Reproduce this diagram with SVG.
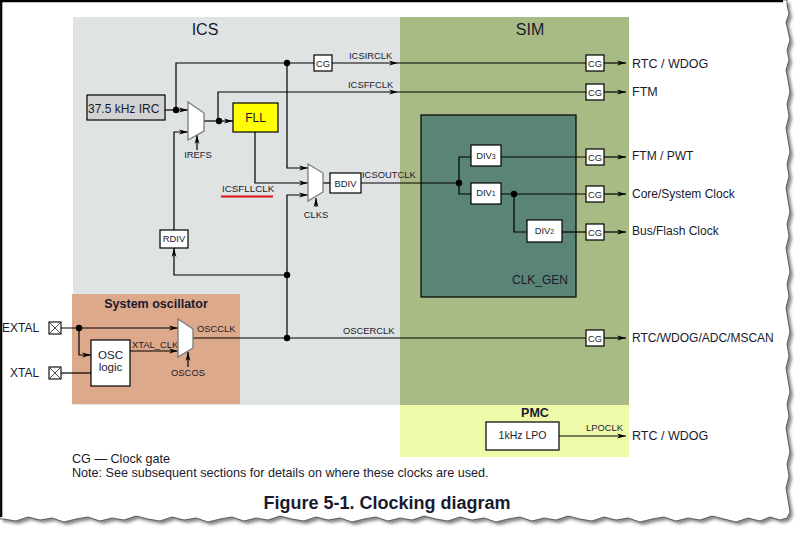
<svg xmlns="http://www.w3.org/2000/svg" width="796" height="534" viewBox="0 0 796 534">
<defs>
<style>
.ln{stroke:#000;stroke-width:1.2;fill:none}
.box{fill:#fff;stroke:#000;stroke-width:1.2}
.mux{fill:#fff;stroke:#7a7a7a;stroke-width:1.3}
.t{font-family:"Liberation Sans",Arial,Helvetica,sans-serif;fill:#1a1a2e}
.s9{font-size:9.4px}
.s12{font-size:12px}
.b{font-weight:bold}
.m{text-anchor:middle}
.dot{fill:#000}
</style>
<marker id="ah" markerWidth="9" markerHeight="6" refX="9" refY="3" orient="auto" markerUnits="userSpaceOnUse">
<path d="M0,0.6 L9,3 L0,5.4 L2.5,3 z" fill="#000"/>
</marker>
<filter id="blur" x="-5%" y="-5%" width="110%" height="110%"><feGaussianBlur stdDeviation="1.6"/></filter>
<filter id="blur2" x="-10%" y="-200%" width="120%" height="500%"><feGaussianBlur stdDeviation="1.2"/></filter>
</defs>

<g id="paper">
<path transform="translate(3,3)" filter="url(#blur)" fill="#8a8a8a" d="M0,0 L787,0 L787,5 789,14 786,22 788,31 790,40 787,50 789,60 786,70 788,80 790,92 787,104 789,116 786,128 788,140 790,152 787,164 789,176 786,188 788,200 790,212 787,224 789,236 786,248 788,260 790,272 787,284 789,296 786,308 788,320 790,332 787,344 789,356 786,368 788,380 790,392 787,404 789,416 786,428 788,440 790,452 787,464 789,476 786,488 788,500 790,512 787,518 780,520 770,517 760,521 748,518 736,522 724,519 712,516 700,520 688,518 676,521 664,517 652,519 640,522 628,518 616,520 604,517 592,521 580,519 568,516 556,520 544,518 532,521 520,517 508,519 496,522 484,518 472,520 460,517 448,521 436,519 424,516 412,520 400,518 388,521 376,517 364,519 352,522 340,518 328,520 316,517 304,521 292,519 280,516 268,520 256,518 244,521 232,517 220,519 208,522 196,518 184,520 172,517 160,521 148,519 136,516 124,520 112,518 100,521 88,517 76,519 64,522 52,518 40,520 28,517 16,521 4,519 0,519 Z"/>
<path fill="#fff" stroke="#444" stroke-width="0.8" d="M0,0 L787,0 L787,5 789,14 786,22 788,31 790,40 787,50 789,60 786,70 788,80 790,92 787,104 789,116 786,128 788,140 790,152 787,164 789,176 786,188 788,200 790,212 787,224 789,236 786,248 788,260 790,272 787,284 789,296 786,308 788,320 790,332 787,344 789,356 786,368 788,380 790,392 787,404 789,416 786,428 788,440 790,452 787,464 789,476 786,488 788,500 790,512 787,518 780,520 770,517 760,521 748,518 736,522 724,519 712,516 700,520 688,518 676,521 664,517 652,519 640,522 628,518 616,520 604,517 592,521 580,519 568,516 556,520 544,518 532,521 520,517 508,519 496,522 484,518 472,520 460,517 448,521 436,519 424,516 412,520 400,518 388,521 376,517 364,519 352,522 340,518 328,520 316,517 304,521 292,519 280,516 268,520 256,518 244,521 232,517 220,519 208,522 196,518 184,520 172,517 160,521 148,519 136,516 124,520 112,518 100,521 88,517 76,519 64,522 52,518 40,520 28,517 16,521 4,519 0,519 Z"/>
<line x1="0" y1="1.2" x2="783" y2="1.2" stroke="#000" stroke-width="2.2"/>
<line x1="1.2" y1="0" x2="1.2" y2="517" stroke="#000" stroke-width="2.2"/>
</g>

<g id="regions">
<g id="ics"><rect x="73" y="17" width="327" height="388" fill="#dfe3e4"/><text class="t m" x="205" y="35" font-size="16">ICS</text></g>
<g id="sim"><rect x="400" y="17" width="229" height="388" fill="#a9bb84"/><text class="t m" x="530" y="35" font-size="16">SIM</text></g>
<g id="pmc"><rect x="400" y="405" width="229" height="52" fill="#eefaa8"/><text class="t m b" x="535" y="417" font-size="12.5">PMC</text></g>
<g id="sysosc"><rect x="72" y="294" width="168" height="110" fill="#dca98a"/><text class="t m b" x="156" y="308" font-size="12.5">System oscillator</text></g>
<g id="clkgen"><rect x="421" y="115" width="155" height="182" fill="#5a8475" stroke="#000" stroke-width="1.2"/><text class="t s12" x="512" y="284">CLK_GEN</text></g>
</g>

<g id="connectors">
<polyline class="ln" points="176,110 176,63 314,63"/>
<line class="ln" x1="332" y1="63" x2="398" y2="63" marker-end="url(#ah)"/>
<line class="ln" x1="398" y1="63" x2="586" y2="63"/>
<line class="ln" x1="604" y1="63" x2="626" y2="63" marker-end="url(#ah)"/>
<line class="ln" x1="165" y1="110" x2="188" y2="110" marker-end="url(#ah)"/>
<polyline class="ln" points="174,230 174,132 188,132" marker-end="url(#ah)"/>
<line class="ln" x1="197" y1="150" x2="197" y2="135" marker-end="url(#ah)"/>
<line class="ln" x1="204" y1="121" x2="233" y2="121" marker-end="url(#ah)"/>
<polyline class="ln" points="218,121 218,92 398,92" marker-end="url(#ah)"/>
<line class="ln" x1="398" y1="92" x2="586" y2="92"/>
<line class="ln" x1="604" y1="92" x2="626" y2="92" marker-end="url(#ah)"/>
<polyline class="ln" points="287,63 287,168 308,168" marker-end="url(#ah)"/>
<polyline class="ln" points="255,132 255,183 308,183" marker-end="url(#ah)"/>
<polyline class="ln" points="287,338 287,195 308,195" marker-end="url(#ah)"/>
<line class="ln" x1="316" y1="207" x2="316" y2="198" marker-end="url(#ah)"/>
<polyline class="ln" points="287,275 174,275 174,248" marker-end="url(#ah)"/>
<line class="ln" x1="323" y1="183" x2="330" y2="183"/>
<line class="ln" x1="361" y1="183" x2="459" y2="183"/>
<polyline class="ln" points="471,157 459,157 459,194 471,194"/>
<line class="ln" x1="501" y1="157" x2="586" y2="157"/>
<line class="ln" x1="604" y1="157" x2="626" y2="157" marker-end="url(#ah)"/>
<line class="ln" x1="501" y1="194" x2="586" y2="194"/>
<line class="ln" x1="604" y1="194" x2="626" y2="194" marker-end="url(#ah)"/>
<polyline class="ln" points="514,194 514,232 527,232"/>
<line class="ln" x1="562" y1="232" x2="586" y2="232"/>
<line class="ln" x1="604" y1="232" x2="626" y2="232" marker-end="url(#ah)"/>
<line class="ln" x1="61" y1="328" x2="178" y2="328" marker-end="url(#ah)"/>
<polyline class="ln" points="79,328 79,355 91,355" marker-end="url(#ah)"/>
<line class="ln" x1="61" y1="373" x2="91" y2="373"/>
<line class="ln" x1="130" y1="351" x2="178" y2="351" marker-end="url(#ah)"/>
<line class="ln" x1="188" y1="367" x2="188" y2="352" marker-end="url(#ah)"/>
<line class="ln" x1="193" y1="338" x2="586" y2="338"/>
<line class="ln" x1="604" y1="338" x2="626" y2="338" marker-end="url(#ah)"/>
<line class="ln" x1="559" y1="436" x2="626" y2="436" marker-end="url(#ah)"/>
<circle class="dot" cx="176" cy="110" r="3.2"/>
<circle class="dot" cx="287" cy="63" r="3.2"/>
<circle class="dot" cx="219" cy="121" r="3.2"/>
<circle class="dot" cx="287" cy="275" r="3.2"/>
<circle class="dot" cx="287" cy="338" r="3.2"/>
<circle class="dot" cx="459" cy="183" r="3.2"/>
<circle class="dot" cx="514" cy="194" r="3.2"/>
<circle class="dot" cx="79" cy="328" r="3.2"/>
<text class="t s9" x="349" y="59">ICSIRCLK</text>
<text class="t s9" x="348" y="88">ICSFFCLK</text>
<text class="t s9" x="362" y="178">ICSOUTCLK</text>
<text class="t" font-size="9.8" x="222" y="192">ICSFLLCLK</text>
<line x1="226" y1="201" x2="278" y2="201" stroke="#9a9a9a" stroke-width="2.5" filter="url(#blur2)"/>
<line x1="221" y1="196.5" x2="273" y2="196.5" stroke="#e01010" stroke-width="2"/>
<text class="t s9 m" x="198" y="158">IREFS</text>
<text class="t s9 m" x="316" y="218">CLKS</text>
<text class="t s9" x="197" y="332">OSCCLK</text>
<text class="t s9" x="132" y="348">XTAL_CLK</text>
<text class="t s9 m" x="188" y="376">OSCOS</text>
<text class="t s9" x="343" y="334">OSCERCLK</text>
<text class="t s9" x="586" y="431">LPOCLK</text>
</g>

<g id="irc"><rect x="87" y="95" width="78" height="25" fill="#d2d2d2" stroke="#000" stroke-width="1.2"/><text class="t s12" x="88" y="113">37.5 kHz IRC</text></g>
<g id="fll"><rect x="233" y="103" width="45" height="29" fill="#ffff00" stroke="#000" stroke-width="1.2"/><text class="t s12 m" x="255.5" y="122">FLL</text></g>
<g id="mux_irefs"><polygon class="mux" points="188,102 204,113 204,131 188,140"/></g>
<g id="mux_clks"><polygon class="mux" points="308,164 323,173 323,192 308,201"/></g>
<g id="mux_osc"><polygon class="mux" points="178,319 193,329 193,348 178,357"/></g>
<g id="cg_ics"><rect class="box" x="314" y="55" width="18" height="16"/><text class="t s9 m" x="323" y="66.5">CG</text></g>
<g id="bdiv"><rect class="box" x="330" y="173" width="31" height="20"/><text class="t s9 m" x="345.5" y="186.5">BDIV</text></g>
<g id="rdiv"><rect class="box" x="160" y="230" width="28" height="18"/><text class="t s9 m" x="174" y="242">RDIV</text></g>
<g id="div3"><rect class="box" x="471" y="145" width="30" height="21"/><text class="t m" font-size="9.4" x="486" y="159">DIV<tspan font-size="7">3</tspan></text></g>
<g id="div1"><rect class="box" x="471" y="183" width="30" height="21"/><text class="t m" font-size="9.4" x="486" y="196">DIV<tspan font-size="7">1</tspan></text></g>
<g id="div2"><rect class="box" x="527" y="220" width="35" height="22"/><text class="t m" font-size="9.4" x="544.5" y="234">DIV<tspan font-size="7">2</tspan></text></g>
<g id="cg1"><rect class="box" x="586" y="55" width="18" height="16"/><text class="t s9 m" x="595" y="66.5">CG</text></g>
<g id="cg2"><rect class="box" x="586" y="84" width="18" height="16"/><text class="t s9 m" x="595" y="95.5">CG</text></g>
<g id="cg3"><rect class="box" x="586" y="149" width="18" height="16"/><text class="t s9 m" x="595" y="160.5">CG</text></g>
<g id="cg4"><rect class="box" x="586" y="186" width="18" height="16"/><text class="t s9 m" x="595" y="197.5">CG</text></g>
<g id="cg5"><rect class="box" x="586" y="224" width="18" height="16"/><text class="t s9 m" x="595" y="235.5">CG</text></g>
<g id="cg6"><rect class="box" x="586" y="330" width="18" height="16"/><text class="t s9 m" x="595" y="341.5">CG</text></g>
<g id="osclogic"><rect class="box" x="91" y="340" width="39" height="46"/><text class="t m" font-size="11.5" x="110.5" y="359">OSC</text><text class="t m" font-size="11.5" x="110.5" y="371">logic</text></g>
<g id="lpo"><rect class="box" x="486" y="422" width="73" height="28"/><text class="t m" font-size="10.5" x="522.5" y="439">1kHz LPO</text></g>
<g id="pad_extal"><rect x="49" y="322" width="12" height="12" fill="#fff" stroke="#000" stroke-width="1.1"/><path d="M49,322 L61,334 M61,322 L49,334" stroke="#333" stroke-width="0.9"/><text class="t s12" x="2" y="332">EXTAL</text></g>
<g id="pad_xtal"><rect x="49" y="367" width="12" height="12" fill="#fff" stroke="#000" stroke-width="1.1"/><path d="M49,367 L61,379 M61,367 L49,379" stroke="#333" stroke-width="0.9"/><text class="t s12" x="10" y="377">XTAL</text></g>

<g id="outputs">
<text class="t" font-size="12.5" x="632" y="68">RTC / WDOG</text>
<text class="t" font-size="12.5" x="632" y="96">FTM</text>
<text class="t s12" x="632" y="160">FTM / PWT</text>
<text class="t s12" x="632" y="198">Core/System Clock</text>
<text class="t s12" x="632" y="235">Bus/Flash Clock</text>
<text class="t s12" x="632" y="342">RTC/WDOG/ADC/MSCAN</text>
<text class="t" font-size="12.5" x="632" y="440">RTC / WDOG</text>
</g>

<g id="notes">
<text class="t" font-size="12.6" x="72" y="463">CG — Clock gate</text>
<text class="t" font-size="12.6" x="72" y="477">Note: See subsequent sections for details on where these clocks are used.</text>
<text class="t b m" font-size="18" x="387" y="509">Figure 5-1. Clocking diagram</text>
</g>
</svg>
